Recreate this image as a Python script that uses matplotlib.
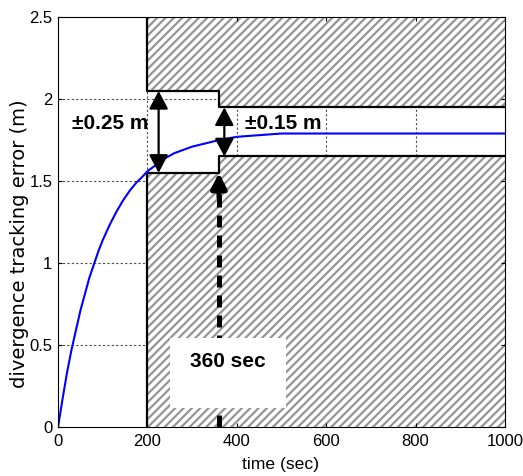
import numpy as np
import matplotlib.pyplot as plt
from matplotlib import font_manager
from matplotlib.patches import Rectangle

# tracking error response (read at sample times)
t_sec = [0, 10, 20, 30, 40, 50, 60, 70, 80, 90, 100, 115, 130, 145, 160, 175,
         190, 200, 220, 240, 260, 280, 300, 330, 360, 400, 450, 500, 600, 700,
         800, 900, 1000]
err_m = [0.00, 0.17, 0.33, 0.47, 0.59, 0.71, 0.81, 0.91, 0.99, 1.07, 1.14,
         1.23, 1.31, 1.38, 1.44, 1.49, 1.53, 1.56, 1.60, 1.64, 1.67, 1.69,
         1.71, 1.73, 1.75, 1.77, 1.78, 1.79, 1.79, 1.79, 1.79, 1.79, 1.79]

# tolerance band edges (step changes at 200 s and 360 s)
band_t = [200, 360, 1000]
band_hi = [2.05, 1.95, 1.95]
band_lo = [1.55, 1.65, 1.65]
settle_t = 360

xticks = [0, 200, 400, 600, 800, 1000]
yticks = [0, 0.5, 1, 1.5, 2, 2.5]
ytick_labels = ['0', '0.5', '1', '1.5', '2', '2.5']


def have_font(name):
    try:
        font_manager.findfont(name, fallback_to_default=False)
        return True
    except Exception:
        return False


narrow = 'Liberation Sans Narrow' if have_font('Liberation Sans Narrow') else 'Liberation Sans'
tick_size = 14 if narrow == 'Liberation Sans Narrow' else 12

plt.rcParams['hatch.linewidth'] = 1.6

fig = plt.figure(figsize=(5.23, 4.76), dpi=100)
ax = fig.add_axes([0.111, 0.103, 0.8546, 0.861])
ax.set_xlim(0, 1000)
ax.set_ylim(0, 2.5)

# dotted grid, kept under the hatched zones
for x in xticks[1:-1]:
    ax.axvline(x, color='0.3', lw=0.8, ls=(0, (2, 2)), zorder=0.5)
for y in yticks[1:-1]:
    ax.axhline(y, color='0.3', lw=0.8, ls=(0, (2, 2)), zorder=0.5)

# forbidden zones above and below the band
ax.fill_between(band_t, band_hi, 2.5, step='post', facecolor='white',
                edgecolor='#959595', hatch='////', lw=0, zorder=1)
ax.fill_between(band_t, 0, band_lo, step='post', facecolor='white',
                edgecolor='#959595', hatch='////', lw=0, zorder=1)
ax.plot([band_t[0]] + band_t, [2.5] + band_hi, drawstyle='steps-post',
        color='k', lw=1.6, zorder=2)
ax.plot([band_t[0]] + band_t, [0] + band_lo, drawstyle='steps-post',
        color='k', lw=1.6, zorder=2)

ax.plot(t_sec, err_m, color='#0000ff', lw=1.5, zorder=3)

# band width arrows
head = '<|-|>,head_length=0.55,head_width=0.29'
ax.annotate('', xy=(225, band_hi[0]), xytext=(225, band_lo[0]),
            arrowprops=dict(arrowstyle=head, color='k', lw=1.6,
                            mutation_scale=20, shrinkA=0, shrinkB=0), zorder=4)
ax.annotate('', xy=(372, band_hi[1]), xytext=(372, band_lo[1]),
            arrowprops=dict(arrowstyle=head, color='k', lw=1.6,
                            mutation_scale=20, shrinkA=0, shrinkB=0), zorder=4)
ax.text(116, 1.85, '\u00b10.25 m', ha='center', va='center', fontsize=15,
        fontweight='bold', family='Liberation Sans', zorder=5)
ax.text(503, 1.85, '\u00b10.15 m', ha='center', va='center', fontsize=15,
        fontweight='bold', family='Liberation Sans', zorder=5)

# settling time marker
ax.plot([settle_t, settle_t], [0, 1.42], color='k', lw=3.6,
        ls=(0, (2.4, 1.6)), zorder=3)
ax.annotate('', xy=(settle_t, band_lo[0]), xytext=(settle_t, 1.40),
            arrowprops=dict(arrowstyle='-|>,head_length=0.45,head_width=0.23',
                            color='k', lw=3.6, mutation_scale=20,
                            shrinkA=0, shrinkB=0), zorder=4)
ax.add_patch(Rectangle((250, 0.116), 260, 0.427, facecolor='white',
                       edgecolor='none', zorder=4))
ax.text(380, 0.40, '%d sec' % settle_t, ha='center', va='center', fontsize=15,
        fontweight='bold', family='Liberation Sans', zorder=5)

ax.set_xticks(xticks)
ax.set_yticks(yticks)
ax.set_yticklabels(ytick_labels)
ax.tick_params(direction='in', length=3, width=0.8, top=True, right=True,
               labelsize=tick_size, color='k')
ax.tick_params(axis='x', pad=5)
ax.tick_params(axis='y', pad=4)
for lab in ax.get_xticklabels() + ax.get_yticklabels():
    lab.set_family(narrow)
for sp in ax.spines.values():
    sp.set_linewidth(0.8)
    sp.set_zorder(6)

ax.set_xlabel('time (sec)', fontsize=12.6, family='Liberation Sans')
ax.set_ylabel('divergence tracking error (m)', fontsize=14, family='DejaVu Sans')
ax.xaxis.set_label_coords(0.497, -0.074)
ax.yaxis.set_label_coords(-0.066, 0.446)

fig.savefig('out.png', dpi=100)
